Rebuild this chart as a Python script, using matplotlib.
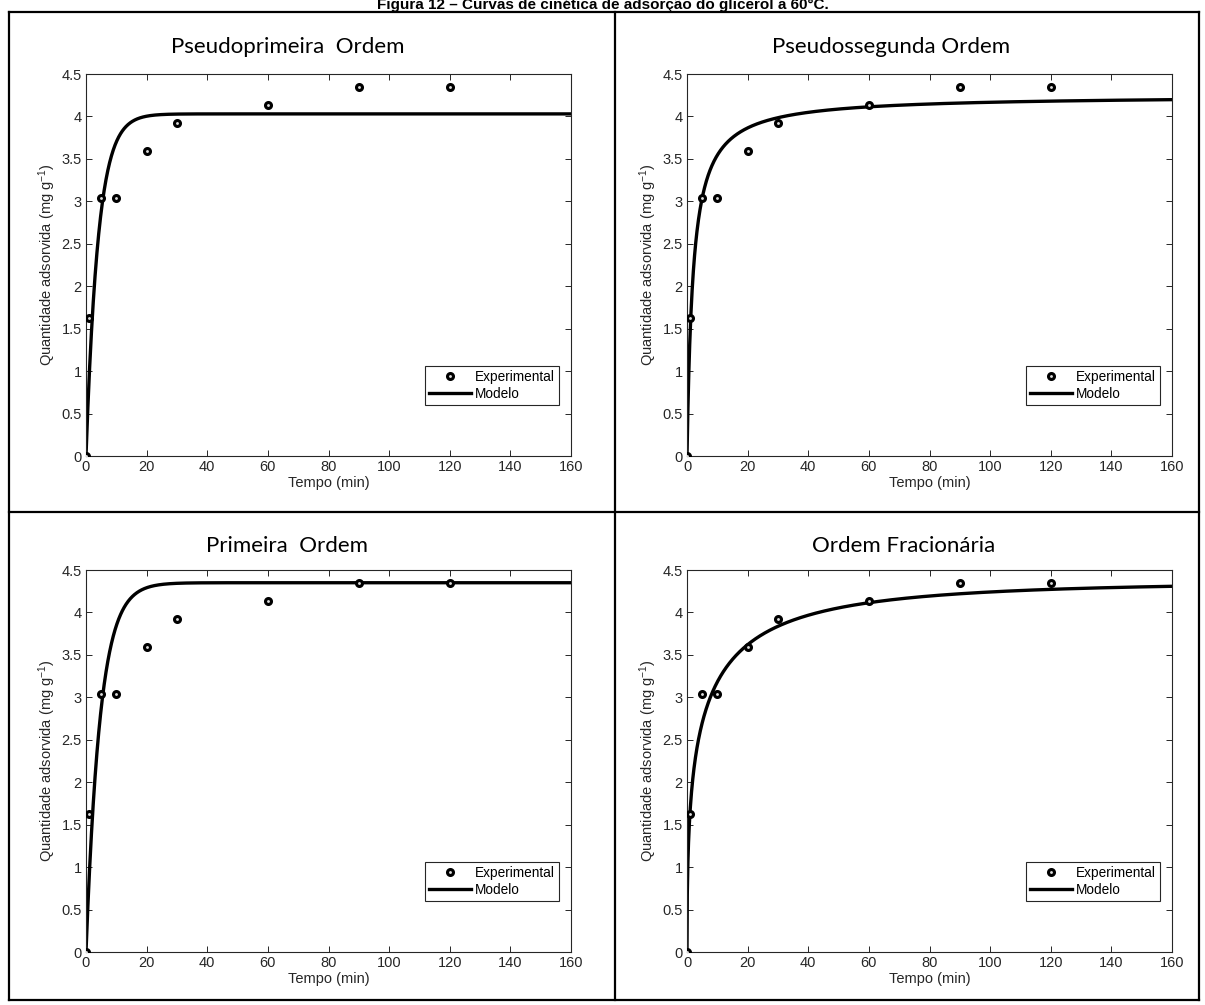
import numpy as np
import matplotlib
matplotlib.use("Agg")
import matplotlib.pyplot as plt
from matplotlib.lines import Line2D

# ---- data ----
tempo = [0, 1, 5, 10, 20, 30, 60, 90, 120]
q_exp = [0, 1.63, 3.04, 3.04, 3.59, 3.92, 4.14, 4.35, 4.35]

titulos = ["Pseudoprimeira  Ordem", "Pseudossegunda Ordem", "Primeira  Ordem", "Ordem Fracionária"]

# fitted model parameters
pfo_qe, pfo_k = 4.03, 0.25             # pseudo-first order
pso_qe, pso_k = 4.25, 0.118            # pseudo-second order
fo_qe, fo_k = 4.35, 0.215              # first order
fr_qe, fr_k, fr_n = 4.36, 0.184, 0.44  # fractional order (Avrami)

xticks = [0, 20, 40, 60, 80, 100, 120, 140, 160]
yticks = [0, 0.5, 1, 1.5, 2, 2.5, 3, 3.5, 4, 4.5]
ytick_labels = ["0", "0.5", "1", "1.5", "2", "2.5", "3", "3.5", "4", "4.5"]

t_model = np.linspace(0, 160, 1601)
modelos = [
    pfo_qe * (1 - np.exp(-pfo_k * t_model)),
    pso_qe**2 * pso_k * t_model / (1 + pso_qe * pso_k * t_model),
    fo_qe * (1 - np.exp(-fo_k * t_model)),
    fr_qe * (1 - np.exp(-(fr_k * t_model) ** fr_n)),
]

plt.rcParams['font.family'] = ['Liberation Sans', 'DejaVu Sans']
plt.rcParams['mathtext.fontset'] = 'custom'
plt.rcParams['mathtext.rm'] = 'Liberation Sans'
plt.rcParams['mathtext.it'] = 'Liberation Sans'

W, H = 1205, 1005
fig = plt.figure(figsize=(W / 100, H / 100), dpi=100)

def fx(px):
    return px / W

def fy(py):
    return 1 - py / H

# frame (table borders)
frame_kw = dict(color='black', lw=1.6, transform=fig.transFigure, solid_capstyle='projecting')
for (x0, y0, x1, y1) in [(9, 12, 1199, 12), (9, 1000, 1199, 1000), (9, 12, 9, 1000),
                         (1199, 12, 1199, 1000), (615, 12, 615, 1000), (9, 512, 1199, 512)]:
    fig.add_artist(Line2D([fx(x0), fx(x1)], [fy(y0), fy(y1)], **frame_kw))

fig.text(0.5, fy(9), "Figura 12 – Curvas de cinética de adsorção do glicerol a 60°C.",
         ha='center', va='baseline', fontsize=11, fontweight='bold')

ax_left = [86, 687, 86, 687]
ax_top = [74, 74, 570, 570]
ax_w, ax_h = 485, 382
title_cx = [288, 891, 287, 904]
title_cy = [47, 47, 546, 546]

grey = '#262626'
for i in range(4):
    ax = fig.add_axes([fx(ax_left[i]), fy(ax_top[i] + ax_h), ax_w / W, ax_h / H])
    ax.plot(tempo, q_exp, linestyle='none', marker='o', markersize=4.3,
            mfc='#dddddd', mec='black', mew=2.2, label='Experimental', zorder=3)
    ax.plot(t_model, modelos[i], color='black', lw=2.4, label='Modelo', zorder=2)
    ax.set_xlim(0, 160)
    ax.set_ylim(0, 4.5)
    ax.set_xticks(xticks)
    ax.set_yticks(yticks)
    ax.set_yticklabels(ytick_labels)
    ax.tick_params(direction='in', length=4, width=0.7, colors=grey, labelsize=10.5,
                   top=True, right=True, pad=3)
    for sp in ax.spines.values():
        sp.set_color(grey)
        sp.set_linewidth(0.8)
    ax.set_xlabel("Tempo (min)", fontsize=10.5, color=grey, labelpad=1)
    ax.set_ylabel("Quantidade adsorvida (mg g$^{-1}$)", fontsize=10.5, color=grey)
    ax.yaxis.set_label_coords(-0.058, 0.5)
    leg = ax.legend(loc='lower right', bbox_to_anchor=(0.975, 0.1335), fontsize=9.8,
                    frameon=True, fancybox=False, edgecolor=grey, framealpha=1,
                    handlelength=3.1, handletextpad=0.3, borderpad=0.3, labelspacing=0.2,
                    borderaxespad=0)
    leg.get_frame().set_linewidth(0.8)
    fig.text(fx(title_cx[i]), fy(title_cy[i]), titulos[i], ha='center', va='center',
             fontsize=16, family=['Lato', 'DejaVu Sans'])

fig.savefig("out.png", dpi=100)
